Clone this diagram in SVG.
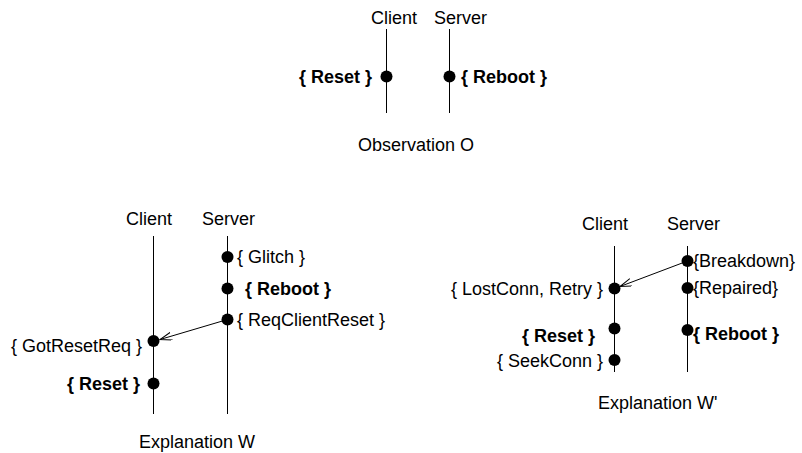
<svg xmlns="http://www.w3.org/2000/svg" width="802" height="453" viewBox="0 0 802 453">
<style>
text{font-family:"Liberation Sans",Arial,sans-serif;font-size:18px;fill:#000}
.b{font-weight:bold}
.e{text-anchor:end}
.life{stroke:#000;stroke-width:1;fill:none}
.dot{fill:#000}
.msg{stroke:#000;stroke-width:1;fill:none}
</style>
<defs>
<marker id="open" markerWidth="13" markerHeight="10" refX="12" refY="4" orient="auto" markerUnits="userSpaceOnUse">
<path d="M0,0 L12,4 L0,8" fill="none" stroke="#000" stroke-width="1"/>
</marker>
</defs>
<rect width="802" height="453" fill="#fff"/>

<g id="observation-O">
  <g id="O-client">
    <text x="371" y="24">Client</text>
    <line class="life" x1="386.5" y1="29" x2="386.5" y2="113"/>
  </g>
  <g id="O-server">
    <text x="434" y="24">Server</text>
    <line class="life" x1="449.5" y1="29" x2="449.5" y2="113"/>
  </g>
  <g id="O-reset">
    <circle class="dot" cx="386.5" cy="76.5" r="6"/>
    <text class="b e" x="372" y="83">{ Reset }</text>
  </g>
  <g id="O-reboot">
    <circle class="dot" cx="449.5" cy="76.5" r="6"/>
    <text class="b" x="461" y="83">{ Reboot }</text>
  </g>
  <text x="358" y="151">Observation O</text>
</g>

<g id="explanation-W">
  <g id="W-client">
    <text x="126" y="225">Client</text>
    <line class="life" x1="153.5" y1="236" x2="153.5" y2="414"/>
  </g>
  <g id="W-server">
    <text x="202" y="225">Server</text>
    <line class="life" x1="227.5" y1="236" x2="227.5" y2="414"/>
  </g>
  <g id="W-glitch">
    <circle class="dot" cx="227.5" cy="257" r="6"/>
    <text x="237" y="263">{ Glitch }</text>
  </g>
  <g id="W-reboot">
    <circle class="dot" cx="227.5" cy="288.5" r="6"/>
    <text class="b" x="245" y="295">{ Reboot }</text>
  </g>
  <g id="W-reqclientreset">
    <circle class="dot" cx="227.5" cy="319.5" r="6"/>
    <text x="237" y="326">{ ReqClientReset }</text>
  </g>
  <g id="W-gotresetreq">
    <circle class="dot" cx="153.5" cy="341" r="6"/>
    <text class="e" x="142" y="352">{ GotResetReq }</text>
  </g>
  <g id="W-reset">
    <circle class="dot" cx="153.5" cy="383.5" r="6"/>
    <text class="b e" x="140" y="390">{ Reset }</text>
  </g>
  <text x="139" y="448">Explanation W</text>
</g>

<g id="explanation-W2">
  <g id="W2-client">
    <text x="582" y="230">Client</text>
    <line class="life" x1="614.5" y1="246" x2="614.5" y2="372"/>
  </g>
  <g id="W2-server">
    <text x="667" y="230">Server</text>
    <line class="life" x1="687.5" y1="246" x2="687.5" y2="372"/>
  </g>
  <g id="W2-breakdown">
    <circle class="dot" cx="687.5" cy="261" r="6"/>
    <text x="693" y="267">{Breakdown}</text>
  </g>
  <g id="W2-repaired">
    <circle class="dot" cx="687.5" cy="288" r="6"/>
    <text x="693" y="294">{Repaired}</text>
  </g>
  <g id="W2-reboot">
    <circle class="dot" cx="687.5" cy="330" r="6"/>
    <text class="b" x="693" y="340">{ Reboot }</text>
  </g>
  <g id="W2-lostconn">
    <circle class="dot" cx="614.5" cy="288.5" r="6"/>
    <text class="e" x="603" y="295">{ LostConn, Retry }</text>
  </g>
  <g id="W2-reset">
    <circle class="dot" cx="614.5" cy="328.5" r="6"/>
    <text class="b e" x="595" y="342">{ Reset }</text>
  </g>
  <g id="W2-seekconn">
    <circle class="dot" cx="614.5" cy="360" r="6"/>
    <text class="e" x="603" y="367">{ SeekConn }</text>
  </g>
  <text x="598" y="409">Explanation W'</text>
</g>

<g id="connectors">
  <line class="msg" x1="227.5" y1="319.5" x2="160" y2="339.5" marker-end="url(#open)"/>
  <line class="msg" x1="687.5" y1="261" x2="620" y2="286.5" marker-end="url(#open)"/>
</g>
</svg>
